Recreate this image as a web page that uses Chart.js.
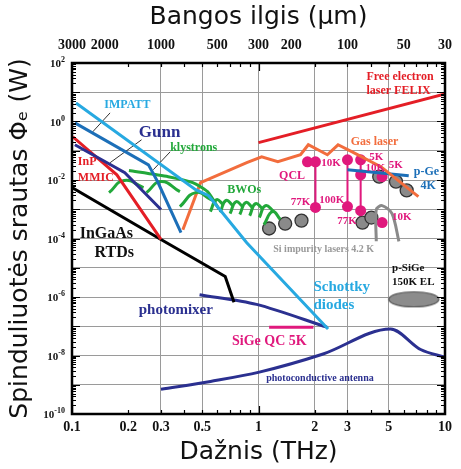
<!DOCTYPE html>
<html>
<head>
<meta charset="utf-8">
<script src="https://cdn.jsdelivr.net/npm/chart.js@4.4.0/dist/chart.umd.min.js"></script>
<style>
  html, body { margin: 0; padding: 0; background: #fff; }
  #wrap { width: 461px; height: 469px; position: relative; }
</style>
</head>
<body>
<div id="wrap"><canvas id="thzChart"></canvas></div>
<script>
// Axis ticks: frequency (THz), wavelength (um), power decades
const freqTicks = [0.1, 0.2, 0.3, 0.5, 1, 2, 3, 5, 10];
const freqGrid = [0.3, 0.5, 1, 2, 3, 5];
const waveTicks = [3000, 2000, 1000, 500, 300, 200, 100, 50, 30];
const powerExp = [-10, -9, -8, -7, -6, -5, -4, -3, -2, -1, 0, 1, 2];
const labelExp = [-10, -8, -6, -4, -2, 0, 2];

// Sources: frequency (THz) and power (W)
const felixF = [1, 10];
const felixP = [0.19, 8.7];
const schottkyF = [0.105, 0.46, 0.54, 0.865, 2.36];
const schottkyP = [4.3, 4.7e-3, 2.9e-3, 7.2e-5, 8e-8];
const impattF = [0.1036, 0.257, 0.288, 0.384];
const impattP = [0.9, 0.033, 8.7e-3, 1.6e-4];
const gunnF = [0.1036, 0.192, 0.3];
const gunnP = [0.16, 0.0178, 9.8e-4];
const inpF = [0.101, 0.174, 0.3];
const inpP = [0.3, 0.015, 9.3e-5];
const rtdF = [0.1, 0.3, 0.663, 0.739];
const rtdP = [5.5e-3, 9.3e-5, 5e-6, 6.6e-7];
const photomixerF = [0.483, 0.976, 2.33];
const photomixerP = [1.2e-6, 5.6e-7, 9.3e-8];
const sigeQcF = [1.14, 1.97];
const sigeQcP = [9.2e-8, 9.2e-8];
const antennaF = [0.3, 0.553, 1.01, 2.2, 5.1, 7.4, 10];
const antennaP = [7e-10, 1.3e-9, 2.7e-9, 1.1e-8, 8e-8, 1.6e-8, 8.7e-9];
const klystronF = [0.202, 0.328, 0.444, 0.533, 0.616];
const klystronP = [0.021, 0.013, 8.1e-3, 4e-3, 9.8e-4];
const gasF = [0.393, 0.489, 0.865, 1.04, 1.27, 1.68, 1.85, 2.34, 2.67, 3.16, 4.55, 7.2];
const gasP = [2e-4, 8.1e-3, 0.039, 0.062, 0.042, 0.073, 0.16, 0.073, 0.16, 0.093, 0.028, 2.7e-3];
const pgeF = [3.0, 6.39];
const pgeP = [0.0225, 0.014];

// BWO tubes: one arch per tube (start, top, end)
const bwoF = [
  [0.158, 0.19, 0.242], [0.251, 0.3, 0.379], [0.379, 0.46, 0.559],
  [0.552, 0.594, 0.647], [0.623, 0.67, 0.73], [0.704, 0.757, 0.824],
  [0.794, 0.854, 0.93], [0.897, 0.964, 1.05], [1.01, 1.09, 1.21], [1.07, 1.19, 1.31]
];
const bwoP = [
  [3.7e-3, 9.6e-3, 5.5e-3], [3.7e-3, 8.8e-3, 4e-3], [1.23e-3, 3.7e-3, 2.1e-3],
  [8.3e-4, 2.1e-3, 1.45e-3], [7.8e-4, 2e-3, 1.33e-3], [7.1e-4, 1.8e-3, 1.23e-3],
  [6.6e-4, 1.7e-3, 1.14e-3], [6e-4, 1.55e-3, 1.05e-3], [5.2e-4, 1.33e-3, 8.3e-4], [3e-4, 8.3e-4, 4.5e-4]
];

// QCL results
const qclDotF = [1.83, 2.02, 2.02, 3.0, 3.53, 3.0, 3.53, 3.53, 4.6, 4.6];
const qclDotP = [0.042, 0.042, 1.15e-3, 0.049, 0.049, 1.23e-3, 0.015, 8.9e-4, 0.013, 3.5e-4];
const qclStemF = [2.02, 3.0, 3.53];
const qclStemTop = [0.042, 0.049, 0.049];
const qclStemBottom = [1.15e-3, 1.23e-3, 8.9e-4];

// Si impurity lasers and p-SiGe
const siDotF = [1.14, 1.39, 1.70, 3.61, 4.03, 4.44, 5.46, 6.23];
const siDotP = [2.2e-4, 3.2e-4, 4.1e-4, 3.5e-4, 5.2e-4, 0.013, 8.8e-3, 4.4e-3];
const siArcF = [4.28, 4.28, 4.6, 5.2, 5.66];
const siArcP = [8e-5, 9.8e-4, 1.33e-3, 7.1e-4, 8e-5];
const psigeF = [6.8];
const psigeP = [8.3e-7];

// leader lines from labels
const impattLeadF = [0.160, 0.129];
const impattLeadP = [1.97, 0.44];
const gunnLeadF = [0.236, 0.16];
const gunnLeadP = [0.237, 0.039];
const klyLeadF = [0.336, 0.273];
const klyLeadP = [0.092, 0.0225];

const RED = '#e41e26', LBLUE = '#27a9e1', MBLUE = '#1c6fb8', NAVY = '#2b3090';
const GREEN = '#22a83a', ORANGE = '#f26d3d', PINK = '#e0197d', GRAY = '#8a8a8a';

// text notes: [text, THz, W, colour, px]
const notes = [
  ['Free electron', 3.79, 33, RED, 12], ['laser FELIX', 3.79, 11, RED, 12],
  ['IMPATT', 0.149, 3.7, LBLUE, 12], ['Gunn', 0.228, 0.41, NAVY, 17],
  ['klystrons', 0.336, 0.126, GREEN, 12],
  ['InP', 0.1075, 0.042, RED, 12], ['MMIC', 0.1075, 0.012, RED, 12],
  ['InGaAs', 0.110, 1.48e-4, '#111', 16], ['RTDs', 0.132, 3.3e-5, '#111', 16],
  ['BWOs', 0.679, 4.7e-3, GREEN, 12], ['Gas laser', 3.12, 0.2, ORANGE, 12],
  ['QCL', 1.29, 0.014, PINK, 12], ['10K', 2.17, 0.039, PINK, 11],
  ['5K', 3.93, 0.062, PINK, 11], ['10K', 3.75, 0.026, PINK, 11], ['5K', 5.0, 0.033, PINK, 11],
  ['77K', 1.49, 1.8e-3, PINK, 11], ['100K', 2.12, 2.1e-3, PINK, 11],
  ['77K', 2.64, 3.8e-4, PINK, 11], ['10K', 5.2, 5.2e-4, PINK, 11],
  ['p-Ge', 6.8, 0.019, MBLUE, 12], ['4K', 7.39, 6.5e-3, MBLUE, 12],
  ['Si impurity lasers 4.2 K', 1.2, 4.2e-5, '#999', 10],
  ['Schottky', 1.97, 2.1e-6, LBLUE, 15], ['diodes', 1.97, 5.2e-7, LBLUE, 15],
  ['p-SiGe', 5.2, 1e-5, '#111', 11], ['150K EL', 5.2, 3.2e-6, '#111', 11],
  ['photomixer', 0.228, 3.5e-7, NAVY, 15], ['SiGe QC 5K', 0.721, 3.1e-8, PINK, 14],
  ['photoconductive antenna', 1.1, 1.7e-9, NAVY, 10]
];

function pts(fs, ps) {
  return fs.map((f, i) => ({ x: f, y: ps[i] }));
}

function curve(fs, ps, color, width, extra) {
  return Object.assign({
    data: pts(fs, ps), borderColor: color, backgroundColor: color,
    borderWidth: width, pointRadius: 0, fill: false, tension: 0
  }, extra || {});
}

// grey ellipse marker for p-SiGe EL
const ellipse = document.createElement('canvas');
ellipse.width = 54; ellipse.height = 18;
const ec = ellipse.getContext('2d');
ec.fillStyle = '#8c8c8c'; ec.strokeStyle = '#555'; ec.lineWidth = 1.2;
ec.beginPath(); ec.ellipse(27, 9, 25, 7.5, 0, 0, Math.PI * 2); ec.fill(); ec.stroke();

const datasets = [];
datasets.push(curve(felixF, felixP, RED, 3));
datasets.push(curve(schottkyF, schottkyP, LBLUE, 3));
datasets.push(curve(impattF, impattP, MBLUE, 3));
datasets.push(curve(gunnF, gunnP, NAVY, 3));
datasets.push(curve(inpF, inpP, RED, 3));
datasets.push(curve(rtdF, rtdP, '#000', 3));
datasets.push(curve(photomixerF, photomixerP, NAVY, 3, { tension: 0.3 }));
datasets.push(curve(sigeQcF, sigeQcP, PINK, 3));
datasets.push(curve(antennaF, antennaP, NAVY, 3, { cubicInterpolationMode: 'monotone' }));
datasets.push(curve(klystronF, klystronP, GREEN, 3, { tension: 0.2 }));
bwoF.forEach((fs, i) => datasets.push(curve(fs, bwoP[i], GREEN, 3, { tension: 0.5 })));
datasets.push(curve(gasF, gasP, ORANGE, 3));
datasets.push(curve(pgeF, pgeP, MBLUE, 3));
qclStemF.forEach((f, i) => datasets.push(curve([f, f], [qclStemTop[i], qclStemBottom[i]], PINK, 2)));
datasets.push(curve(siArcF, siArcP, GRAY, 3, { tension: 0.3 }));
datasets.push(curve(impattLeadF, impattLeadP, '#333', 1));
datasets.push(curve(gunnLeadF, gunnLeadP, '#333', 1));
datasets.push(curve(klyLeadF, klyLeadP, '#333', 1));
datasets.push(curve(qclDotF, qclDotP, PINK, 0, { showLine: false, pointRadius: 5.5, pointBorderWidth: 0 }));
datasets.push(curve(siDotF, siDotP, GRAY, 0, {
  showLine: false, pointRadius: 6.5, pointBorderWidth: 1.3, pointBorderColor: '#333', pointBackgroundColor: GRAY
}));
datasets.push(curve(psigeF, psigeP, GRAY, 0, { showLine: false, pointRadius: 10, pointStyle: ellipse }));

// frame, inward ticks, power labels with superscripts, text notes
const decor = {
  id: 'decor',
  afterDatasetsDraw(chart) {
    const { ctx, chartArea: a, scales } = chart;
    const sx = scales.x, sy = scales.y;
    ctx.save();
    ctx.strokeStyle = '#000';
    ctx.lineWidth = 1.2;
    ctx.beginPath();
    for (let e = -10; e <= 1; e++) {
      for (let k = 1; k <= 9; k++) {
        const py = Math.round(sy.getPixelForValue(k * Math.pow(10, e))) + 0.5;
        const len = k === 1 ? 8 : 4;
        ctx.moveTo(a.left, py); ctx.lineTo(a.left + len, py);
        ctx.moveTo(a.right, py); ctx.lineTo(a.right - len, py);
      }
    }
    for (let e = -1; e <= 0; e++) {
      for (let k = 1; k <= 9; k++) {
        const px = Math.round(sx.getPixelForValue(k * Math.pow(10, e))) + 0.5;
        const len = k === 1 ? 8 : 4;
        ctx.moveTo(px, a.bottom); ctx.lineTo(px, a.bottom - len);
        ctx.moveTo(px, a.top); ctx.lineTo(px, a.top + len);
      }
    }
    ctx.stroke();
    ctx.lineWidth = 2.5;
    ctx.strokeRect(a.left, a.top, a.right - a.left, a.bottom - a.top);

    // y labels: 10 with raised exponent
    ctx.fillStyle = '#111';
    ctx.textBaseline = 'alphabetic';
    labelExp.forEach(e => {
      const py = sy.getPixelForValue(Math.pow(10, e));
      const right = a.left - 7;
      ctx.font = 'bold 8px "Liberation Serif"';
      const ew = ctx.measureText(String(e)).width;
      ctx.textAlign = 'left';
      ctx.fillText(String(e), right - ew, py - 1);
      ctx.font = 'bold 11px "Liberation Serif"';
      ctx.textAlign = 'right';
      ctx.fillText('10', right - ew, py + 4);
    });

    ctx.textAlign = 'left';
    ctx.textBaseline = 'middle';
    notes.forEach(([text, f, p, color, size]) => {
      ctx.fillStyle = color;
      ctx.font = 'bold ' + size + 'px "Liberation Serif"';
      ctx.fillText(text, sx.getPixelForValue(f), sy.getPixelForValue(p));
    });
    ctx.restore();
  }
};

const tickFont = { family: '"Liberation Serif"', weight: 'bold', size: 14 };
const titleFont = { family: '"DejaVu Sans"', size: 25 };

new Chart(document.getElementById('thzChart'), {
  type: 'line',
  data: { datasets },
  options: {
    responsive: true,
    maintainAspectRatio: false,
    animation: false,
    devicePixelRatio: 1,
    layout: { padding: { right: 9 } },
    plugins: { legend: { display: false }, tooltip: { enabled: false } },
    scales: {
      x: {
        type: 'logarithmic', position: 'bottom', min: 0.1, max: 10,
        afterBuildTicks: s => { s.ticks = freqTicks.map(v => ({ value: v })); },
        afterFit: s => { s.height = 55; },
        ticks: { autoSkip: false, maxRotation: 0, padding: 5, color: '#111', font: tickFont, callback: v => String(v) },
        grid: {
          drawTicks: false, lineWidth: 1,
          color: c => freqGrid.includes(c.tick && c.tick.value) ? '#9a9a9a' : 'rgba(0,0,0,0)'
        },
        border: { display: false },
        title: { display: true, text: 'Dažnis (THz)', color: '#111', font: titleFont, padding: { top: 0, bottom: 2 } }
      },
      x2: {
        type: 'logarithmic', position: 'top', reverse: true, min: 30, max: 3000,
        afterBuildTicks: s => { s.ticks = waveTicks.map(v => ({ value: v })); },
        afterFit: s => { s.height = 63; },
        ticks: { autoSkip: false, maxRotation: 0, padding: 9, color: '#111', font: tickFont, callback: v => String(v) },
        grid: { display: false, drawTicks: false },
        border: { display: false },
        title: { display: true, text: 'Bangos ilgis (μm)', color: '#111', font: titleFont, padding: { top: 2, bottom: 0 } }
      },
      y: {
        type: 'logarithmic', position: 'left', min: 1e-10, max: 100,
        afterBuildTicks: s => { s.ticks = powerExp.map(e => ({ value: Math.pow(10, e) })); },
        afterFit: s => { s.width = 72; },
        ticks: { display: false },
        grid: {
          drawTicks: false, lineWidth: 1,
          color: c => (c.tick && (c.tick.value < 2e-10 || c.tick.value > 50)) ? 'rgba(0,0,0,0)' : '#9a9a9a'
        },
        border: { display: false },
        title: { display: true, text: 'Spinduliuotės srautas Φₑ (W)', color: '#111', font: titleFont, padding: { top: 5, bottom: 0 } }
      }
    }
  },
  plugins: [decor]
});
</script>
</body>
</html>
